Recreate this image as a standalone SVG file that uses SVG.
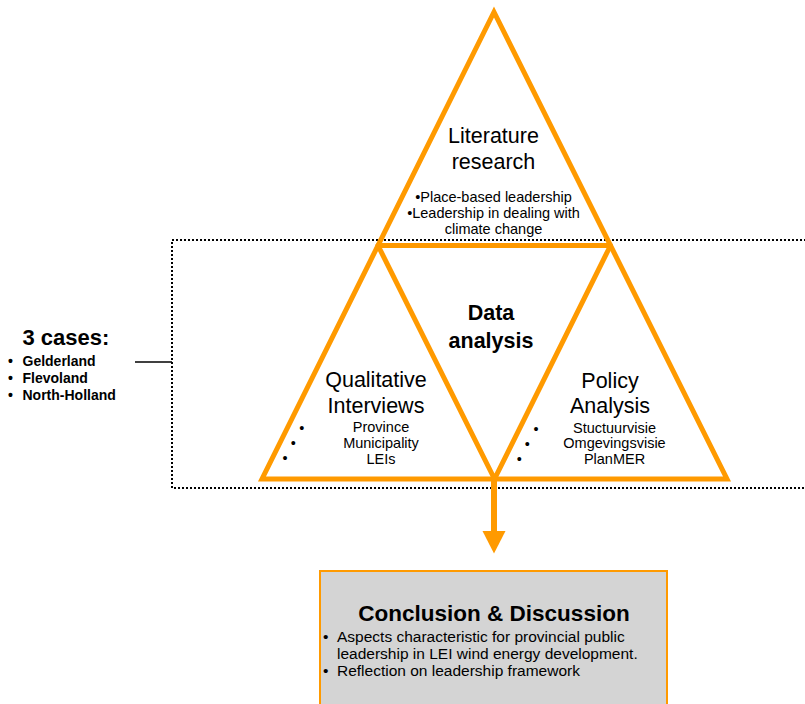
<svg xmlns="http://www.w3.org/2000/svg" width="805" height="704" viewBox="0 0 805 704">
  <style>
    text { font-family: "Liberation Sans", Arial, Helvetica, sans-serif; fill: #000; }
    .title { font-size: 21.5px; text-anchor: middle; }
    .titleb { font-size: 21.5px; font-weight: bold; text-anchor: middle; }
    .item { font-size: 14.5px; text-anchor: middle; }
    .dot { font-size: 14.5px; text-anchor: middle; }
    .case { font-size: 14px; font-weight: bold; }
    .concl { font-size: 15.5px; }
    .tri { fill: none; stroke: #FF9A00; stroke-width: 5; }
    .frame { fill: none; stroke: #000; stroke-width: 2; stroke-dasharray: 2 2; }
  </style>

  <rect width="805" height="704" fill="#ffffff"/>

  <!-- dotted frame around the case-study layer -->
  <g id="case-frame">
    <polyline class="frame" points="806,240 172,240 172,488 806,488"/>
  </g>

  <!-- connectors -->
  <g id="connectors">
    <line x1="135" y1="362" x2="172" y2="362" stroke="#000" stroke-width="1.6"/>
    <line x1="494" y1="479" x2="494" y2="532" stroke="#FF9A00" stroke-width="6"/>
    <polygon points="482.5,531 505.5,531 494,553.5" fill="#FF9A00"/>
  </g>

  <!-- triangulation frame -->
  <g id="triangles">
    <polygon class="tri" points="494,12 727,479 262,479" stroke-linejoin="miter" stroke-miterlimit="10"/>
    <polygon class="tri" points="378,245.5 610.5,245.5 494.5,479" stroke-linejoin="round"/>
  </g>

  <g id="literature-research">
    <text class="title" x="493.5" y="143">Literature</text>
    <text class="title" x="493.5" y="169">research</text>
    <text class="item" x="493.5" y="202">•Place-based leadership</text>
    <text class="item" x="493.5" y="218">•Leadership in dealing with</text>
    <text class="item" x="493.5" y="234">climate change</text>
  </g>

  <g id="data-analysis">
    <text class="titleb" x="491" y="320">Data</text>
    <text class="titleb" x="491" y="348">analysis</text>
  </g>

  <g id="qualitative-interviews">
    <text class="title" x="376" y="387">Qualitative</text>
    <text class="title" x="376" y="413">Interviews</text>
    <text class="item" x="381" y="432">Province</text>
    <text class="item" x="381" y="447.5">Municipality</text>
    <text class="item" x="381" y="463.5">LEIs</text>
    <text class="dot" x="301.7" y="432.5">•</text>
    <text class="dot" x="293.3" y="447.5">•</text>
    <text class="dot" x="285" y="463">•</text>
  </g>

  <g id="policy-analysis">
    <text class="title" x="610" y="388">Policy</text>
    <text class="title" x="610" y="413">Analysis</text>
    <text class="item" x="614.5" y="432.5">Stuctuurvisie</text>
    <text class="item" x="614.5" y="448">Omgevingsvisie</text>
    <text class="item" x="614.5" y="464">PlanMER</text>
    <text class="dot" x="536" y="433.5">•</text>
    <text class="dot" x="527.3" y="449">•</text>
    <text class="dot" x="519.3" y="464">•</text>
  </g>

  <g id="cases">
    <text x="22.5" y="345" font-size="22" font-weight="bold">3 cases:</text>
    <text class="case" x="8" y="365.5">•</text>
    <text class="case" x="22.5" y="365.5">Gelderland</text>
    <text class="case" x="8" y="382.5">•</text>
    <text class="case" x="22.5" y="382.5">Flevoland</text>
    <text class="case" x="8" y="400">•</text>
    <text class="case" x="22.5" y="400">North-Holland</text>
  </g>

  <g id="conclusion-discussion">
    <rect x="320" y="571" width="347" height="145" fill="#D4D4D4" stroke="#FF9A00" stroke-width="2"/>
    <text x="494" y="621" font-size="22.5" font-weight="bold" text-anchor="middle">Conclusion &amp; Discussion</text>
    <text class="concl" x="323" y="642">•</text>
    <text class="concl" x="337" y="642">Aspects characteristic for provincial public</text>
    <text class="concl" x="337" y="659">leadership in LEI wind energy development.</text>
    <text class="concl" x="323" y="676">•</text>
    <text class="concl" x="337" y="676">Reflection on leadership framework</text>
  </g>
</svg>
